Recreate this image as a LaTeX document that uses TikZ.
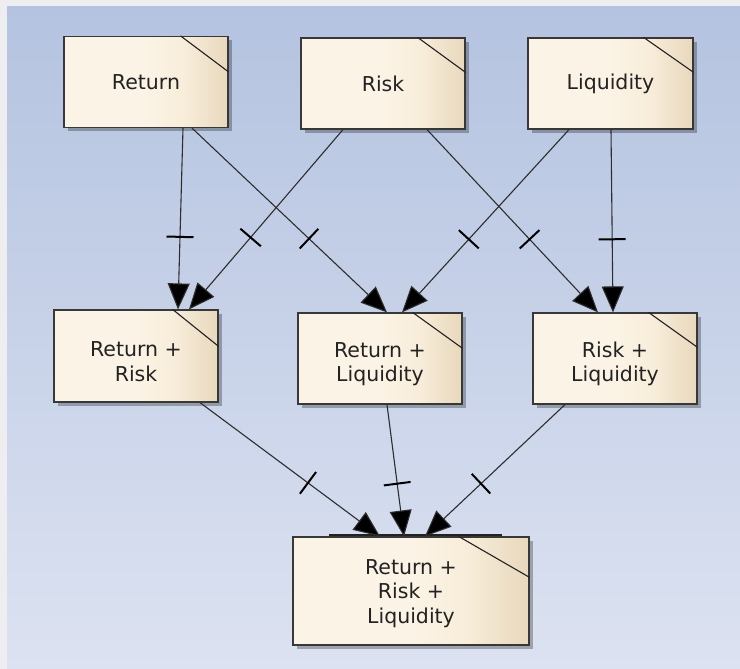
\documentclass[tikz,border=0pt]{standalone}
\usepackage{fontspec}
\setmainfont{DejaVu Sans}
\usetikzlibrary{arrows.meta,calc,shadows,decorations.markings}

\definecolor{bgtop}{RGB}{180,195,224}
\definecolor{bgbot}{RGB}{220,226,241}
\definecolor{frame}{RGB}{238,238,240}
\definecolor{boxA}{RGB}{251,243,229}
\definecolor{boxB}{RGB}{248,237,218}
\definecolor{boxC}{RGB}{232,216,188}
\definecolor{ink}{RGB}{34,34,34}

\pgfdeclarehorizontalshading{boxfill}{100bp}{color(0bp)=(boxA); color(25bp)=(boxA); color(50bp)=(boxA); color(62bp)=(boxB); color(75bp)=(boxC); color(100bp)=(boxC)}

\tikzset{
  block/.style={draw=ink!90, line width=1.2pt, shading=boxfill,
    minimum width=164pt, minimum height=91pt, inner sep=0pt,
    align=center, text=ink, font=\fontsize{20.5}{24.5}\selectfont,
    drop shadow={shadow xshift=4pt, shadow yshift=-4pt, opacity=0.28, fill=black}},
  link/.style={draw=ink!95, line width=1.1pt,
    -{Triangle[length=26pt,width=22pt,fill=black]},
    postaction={decorate},
    decoration={markings, mark=at position 0.6 with {\draw[black, line width=2pt,-] (0,-13.5pt) -- (0,13.5pt);}}}
}

% folded corner line at the top right of a block
\newcommand{\foldmark}[3]{\draw[ink, line width=1.1pt] ([xshift=-#2pt]#1.north east) -- ([yshift=-#3pt]#1.north east);}
% tall strut that sets the two-line labels a little lower in their blocks
\newcommand{\lowstrut}{\rule{0pt}{26pt}}

\begin{document}
\begin{tikzpicture}[x=1pt,y=-1pt]
  % canvas
  \useasboundingbox (0,0) rectangle (740,669);
  \fill[frame] (0,0) rectangle (740,669);
  \shade[top color=bgtop, bottom color=bgbot] (7,7) rectangle (740,669);

  % first row
  \node[block] (ret) at (146,82) {Return};
  \node[block] (risk) at (383,83.5) {Risk};
  \node[block, minimum width=165pt] (liq) at (610.5,83.5) {Liquidity};

  % second row
  \node[block, minimum height=92pt] (rr) at (136,356) {\lowstrut Return +\\Risk};
  \node[block] (rl) at (380,358.5) {\lowstrut Return +\\Liquidity};
  \node[block] (ril) at (615,358.5) {\lowstrut Risk +\\Liquidity};

  % third row
  \node[block, minimum width=236pt, minimum height=108pt] (all) at (411,591) {\rule{0pt}{20pt}Return +\\Risk +\\Liquidity};
  \draw[ink, line width=2pt] ($(all.north west)+(37,-1)$) -- ($(all.north west)+(210,-1)$);

  \foldmark{ret}{48}{36}
  \foldmark{risk}{48}{35}
  \foldmark{liq}{50}{35}
  \foldmark{rr}{46}{37}
  \foldmark{rl}{50}{36}
  \foldmark{ril}{49}{35}
  \foldmark{all}{71}{41}

  % connectors into the second row
  \draw[link] ($(ret.south)+(37,0)$) -- ($(rr.north)+(42,0)$);
  \draw[link] ($(risk.south)+(-40,0)$) -- ($(rr.north)+(53,0)$);
  \draw[link] ($(ret.south)+(46,0)$) -- ($(rl.north)+(7,0)$);
  \draw[link] ($(liq.south)+(-41.5,0)$) -- ($(rl.north)+(22,0)$);
  \draw[link] ($(risk.south)+(44,0)$) -- ($(ril.north)+(-17,0)$);
  \draw[link] ($(liq.south)+(0.5,0)$) -- ($(ril.north)+(-2,0)$);

  % connectors into the third row
  \draw[link] ($(rr.south)+(64,0)$) -- ($(all.north)+(-31,0)$);
  \draw[link] ($(rl.south)+(7,0)$) -- ($(all.north)+(-7,0)$);
  \draw[link] ($(ril.south)+(-50,0)$) -- ($(all.north)+(14,0)$);
\end{tikzpicture}
\end{document}
